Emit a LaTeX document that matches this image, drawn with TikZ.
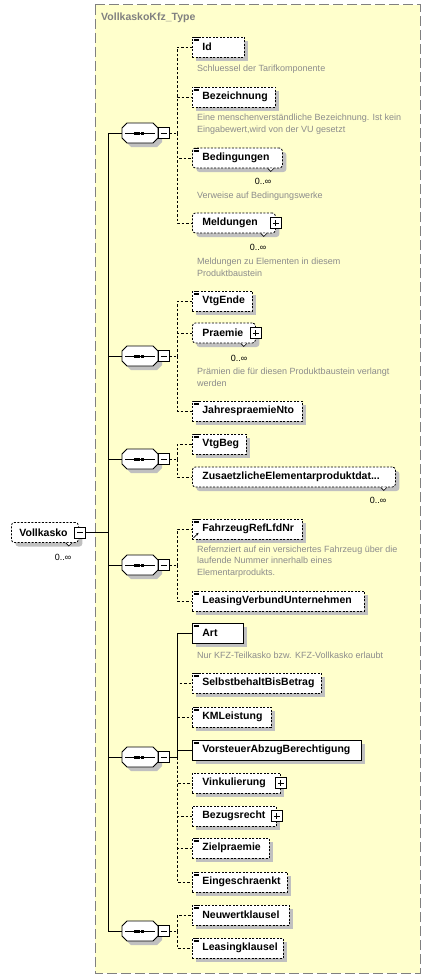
\documentclass[tikz,border=0pt]{standalone}
\usepackage{fontspec}
\setmainfont{Liberation Sans}
\usetikzlibrary{shadows,arrows.meta,calc}
\definecolor{bgyellow}{HTML}{FFFFCC}
\definecolor{framegray}{HTML}{808080}
\definecolor{docgray}{HTML}{8C8C8C}
\definecolor{shadowgray}{HTML}{C0C0C0}
\newcommand\elnode[5]{\node[#4, minimum width=#3pt] (#1) at (192,#2) {\makebox[\dimexpr#3pt-20pt\relax][l]{#5}};}
\newcommand\lineicon[1]{\foreach \d in {0.8,2.4,4.0}{\draw[line width=0.7pt] ([shift={(1.5,\d)}]#1.north west) -- ++(5.5,0);}}
\newcommand\notchmark[2]{\draw[line width=0.6pt, fill=white] ([xshift=-#2pt]#1.south east) ++(-3,0) -- ++(3,3) -- ++(3,-3);}
\newcommand\octpath[1]{([shift={(-18,-5)}]#1) -- ([shift={(-13,-10)}]#1) -- ([shift={(13,-10)}]#1) -- ([shift={(18,-5)}]#1) -- ([shift={(18,5)}]#1) -- ([shift={(13,10)}]#1) -- ([shift={(-13,10)}]#1) -- ([shift={(-18,5)}]#1) -- cycle}
\begin{document}
\begin{tikzpicture}[x=1pt,y=-1pt,
  el/.style={draw, fill=white, line width=0.8pt, minimum height=20pt, inner xsep=10pt, inner ysep=0pt, anchor=west,
    font=\fontsize{10.5}{12}\selectfont\bfseries,
    general shadow={fill=shadowgray, shadow xshift=4pt, shadow yshift=-4pt}},
  opt/.style={el, dash pattern=on 2pt off 1.5pt},
  req/.style={el},
  multi/.style={rounded corners=3pt},
  comp/.style={minimum width=36pt, minimum height=20pt, inner sep=0pt},
  octo/.style={draw, fill=white, line width=0.8pt},
  octoshadow/.style={fill=shadowgray},
  pmbox/.style={draw, fill=white, line width=0.8pt, minimum size=11pt, inner sep=0pt},
  minusbox/.style={pmbox, path picture={\draw[line width=0.8pt] ([xshift=2.5pt]path picture bounding box.west) -- ([xshift=-2.5pt]path picture bounding box.east);}},
  plusbox/.style={pmbox, path picture={\draw[line width=0.8pt] ([xshift=2.5pt]path picture bounding box.west) -- ([xshift=-2.5pt]path picture bounding box.east);
      \draw[line width=0.8pt] ([yshift=2.5pt]path picture bounding box.south) -- ([yshift=-2.5pt]path picture bounding box.north);}},
  doc/.style={anchor=west, inner sep=0pt, align=left, text=docgray, font=\fontsize{9}{11.6}\selectfont},
  mult/.style={inner sep=0pt, font=\fontsize{9}{10}\selectfont},
  conn/.style={line width=0.9pt},
  dconn/.style={line width=0.9pt, dash pattern=on 2.5pt off 2pt},
  frame/.style={fill=bgyellow, draw=framegray, line width=1pt, dash pattern=on 10pt off 4pt}
]
\useasboundingbox (0,0) rectangle (431,979);
\draw[frame] (95,5) rectangle (420,973);
\node[anchor=west, inner sep=0pt, text=framegray, font=\fontsize{10.5}{12}\selectfont\bfseries] (title) at (101,18) {VollkaskoKfz\_Type};

% root element
\node[opt, multi, minimum width=67pt, inner xsep=8pt] (vk) at (11,532.5) {\makebox[51pt][l]{Vollkasko}};
\notchmark{vk}{10}
\node[minusbox] (vm) at (80,532.5) {};
\node[mult] (vkm) at (63,557) {0..∞};
\coordinate (hub) at (108,532.5);

% compositors (sequence)
\foreach \i/\yy in {1/133,2/356,3/459,4/565,5/757,6/931}{
  \node[comp] (c\i) at (140,\yy) {};
  \coordinate (cs\i) at (144,\yy+4);
  \fill[octoshadow] \octpath{cs\i};
  \draw[octo] \octpath{c\i.center};
  \draw[line width=1pt] ([xshift=-15pt]c\i.center) -- ([xshift=15pt]c\i.center);
  \foreach \dx in {-5,-1.3,2.4} \fill ([xshift=\dx pt]c\i.center) +(-1.5pt,-1.5pt) rectangle +(1.5pt,1.5pt);
  \node[minusbox] (m\i) at (163.5,\yy) {};
  \coordinate (j\i) at (177,\yy);
}

% elements
\elnode{id}{47}{52}{opt}{Id}
\elnode{bez}{97}{83}{opt}{Bezeichnung}
\elnode{bed}{158}{90}{opt,multi}{Bedingungen}
\elnode{mel}{223}{83}{opt,multi}{Meldungen}
\elnode{vte}{301}{60}{opt}{VtgEnde}
\elnode{pra}{333}{63}{opt,multi}{Praemie}
\elnode{jpn}{411}{110}{opt}{JahrespraemieNto}
\elnode{vtb}{444}{54}{opt}{VtgBeg}
\elnode{zus}{477}{203}{opt,multi}{ZusaetzlicheElementarproduktdat...}
\elnode{frl}{529}{110}{opt}{FahrzeugRefLfdNr}
\elnode{lvu}{601}{172}{opt}{LeasingVerbundUnternehmen}
\elnode{art}{633}{51}{req}{Art}
\elnode{sbb}{683}{129}{opt}{SelbstbehaltBisBetrag}
\elnode{kml}{717}{79}{opt}{KMLeistung}
\elnode{vab}{750}{169}{req}{VorsteuerAbzugBerechtigung}
\elnode{vin}{783}{88}{opt}{Vinkulierung}
\elnode{bzr}{816}{84}{opt}{Bezugsrecht}
\elnode{zip}{848}{77}{opt}{Zielpraemie}
\elnode{eing}{882}{95}{opt}{Eingeschraenkt}
\elnode{nwk}{915}{97}{opt}{Neuwertklausel}
\elnode{lkl}{948}{91}{opt}{Leasingklausel}

\foreach \n in {id,bez,bed,vte,jpn,vtb,frl,lvu,art,sbb,kml,vab,zip,eing,nwk,lkl}{\lineicon{\n}}
\foreach \n in {bed,mel,pra,zus}{\notchmark{\n}{12}}
\foreach \n in {mel,pra,vin,bzr}{\node[plusbox] (p\n) at (\n.east) {};}
\draw[line width=0.8pt, -{Stealth[length=2.5pt,width=2.5pt]}] ([shift={(1.5,-1.5)}]frl.south west) -- ++(5,-5);

% multiplicities
\node[mult] (bedm) at (263,181) {0..∞};
\node[mult] (melm) at (258,247) {0..∞};
\node[mult] (pram) at (239,358) {0..∞};
\node[mult] (zusm) at (378,500) {0..∞};

% documentation
\node[doc] (d1) at (197,69) {Schluessel der Tarifkomponente};
\node[doc] (d2) at (197,124) {Eine menschenverständliche Bezeichnung. Ist kein\\Eingabewert,wird von der VU gesetzt};
\node[doc] (d3) at (197,196) {Verweise auf Bedingungswerke};
\node[doc] (d4) at (197,267.5) {Meldungen zu Elementen in diesem\\Produktbaustein};
\node[doc] (d5) at (197,377.5) {Prämien die für diesen Produktbaustein verlangt\\werden};
\node[doc] (d6) at (197,561.5) {Refernziert auf ein versichertes Fahrzeug über die\\laufende Nummer innerhalb eines\\Elementarprodukts.};
\node[doc] (d7) at (197,655) {Nur KFZ-Teilkasko bzw. KFZ-Vollkasko erlaubt};

% connectors: root to compositors
\draw[conn] (vm.east) -- (hub);
\foreach \i in {1,...,6}{\draw[conn] (hub) |- (c\i.west);}
% compositors to children
\foreach \i in {1,2,3,4,6}{\draw[dconn] (m\i.east) -- (j\i);}
\foreach \n in {id,bez,bed,mel}{\draw[dconn] (j1) |- (\n.west);}
\foreach \n in {vte,pra,jpn}{\draw[dconn] (j2) |- (\n.west);}
\foreach \n in {vtb,zus}{\draw[dconn] (j3) |- (\n.west);}
\foreach \n in {frl,lvu}{\draw[dconn] (j4) |- (\n.west);}
\foreach \n in {sbb,kml,vin,bzr,zip,eing}{\draw[dconn] (j5) |- (\n.west);}
\draw[conn] (m5.east) -- (j5);
\foreach \n in {art,vab}{\draw[conn] (j5) |- (\n.west);}
\foreach \n in {nwk,lkl}{\draw[dconn] (j6) |- (\n.west);}
\end{tikzpicture}
\end{document}
